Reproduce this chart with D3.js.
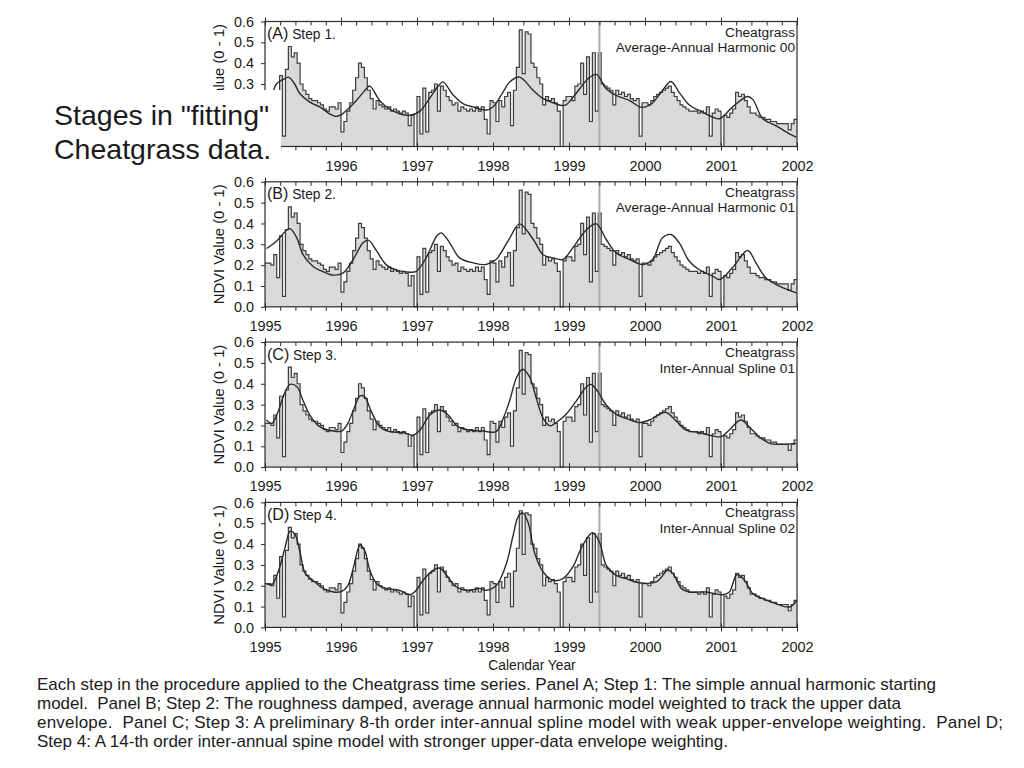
<!DOCTYPE html>
<html><head><meta charset="utf-8">
<script src="https://cdn.jsdelivr.net/npm/d3@7"></script>
<style>
body{margin:0;background:#fff}
svg{display:block}
text{font-family:"Liberation Sans",Arial,Helvetica,sans-serif;fill:#1a1a1a}
</style>
</head><body>
<svg id="c" width="1024" height="768"></svg>
<script>
// ---- data: NDVI composites (26 per year) ----
const ndvi1995 = [0.21,0.21,0.20,0.25,0.14,0.34,0.05,0.37,0.48,0.43,0.45,0.40,0.30,0.27,0.25,0.23,0.22,0.22,0.21,0.20,0.18,0.17,0.19,0.19,0.18,0.21];
const ndvi1996 = [0.07,0.12,0.17,0.21,0.27,0.33,0.40,0.38,0.33,0.27,0.23,0.18,0.22,0.20,0.19,0.18,0.19,0.17,0.18,0.17,0.16,0.17,0.16,0.10,0.15,0.00];
const ndvi1997 = [0.24,0.06,0.28,0.07,0.26,0.27,0.30,0.17,0.29,0.27,0.24,0.22,0.20,0.21,0.17,0.19,0.18,0.17,0.18,0.17,0.19,0.17,0.19,0.13,0.06,0.22];
const ndvi1998 = [0.21,0.12,0.22,0.19,0.24,0.26,0.10,0.27,0.38,0.56,0.35,0.55,0.54,0.40,0.38,0.33,0.30,0.20,0.24,0.22,0.23,0.21,0.17,0.00,0.22,0.24];
const ndvi1999 = [0.24,0.22,0.29,0.30,0.40,0.25,0.43,0.12,0.45,0.17,0.45,0.30,0.29,0.28,0.27,0.20,0.27,0.25,0.26,0.24,0.25,0.23,0.22,0.23,0.05,0.21];
const ndvi2000 = [0.21,0.20,0.22,0.24,0.25,0.26,0.27,0.28,0.29,0.26,0.24,0.22,0.20,0.19,0.18,0.17,0.17,0.17,0.16,0.17,0.16,0.19,0.05,0.16,0.18,0.17];
const ndvi2001 = [0.00,0.15,0.14,0.16,0.18,0.26,0.24,0.25,0.22,0.19,0.16,0.16,0.15,0.14,0.14,0.13,0.13,0.12,0.12,0.11,0.11,0.11,0.11,0.08,0.11,0.13];
const compositesPerYear = 26;

// ---- model curves: [year, NDVI] ----
const modelA = [[1995.0,0.22],[1995.10,0.26],[1995.15,0.30],[1995.24,0.322],[1995.31,0.333],[1995.39,0.30],[1995.46,0.253],[1995.59,0.213],[1995.72,0.19],[1995.85,0.157],[1995.92,0.145],[1995.99,0.15],[1996.07,0.173],[1996.20,0.22],[1996.34,0.28],[1996.38,0.29],[1996.51,0.22],[1996.64,0.18],[1996.77,0.157],[1996.91,0.15],[1997.04,0.17],[1997.17,0.233],[1997.28,0.29],[1997.34,0.31],[1997.47,0.25],[1997.61,0.205],[1997.74,0.19],[1997.91,0.175],[1998.0,0.19],[1998.13,0.26],[1998.22,0.31],[1998.35,0.333],[1998.53,0.269],[1998.66,0.23],[1998.79,0.21],[1998.90,0.197],[1998.96,0.20],[1999.09,0.253],[1999.25,0.325],[1999.36,0.346],[1999.49,0.277],[1999.62,0.245],[1999.80,0.22],[1999.93,0.19],[2000.01,0.19],[2000.10,0.21],[2000.23,0.269],[2000.34,0.312],[2000.45,0.26],[2000.58,0.20],[2000.71,0.173],[2000.89,0.141],[2000.98,0.133],[2001.15,0.189],[2001.35,0.24],[2001.42,0.225],[2001.55,0.133],[2001.72,0.10],[2001.90,0.061],[2001.99,0.045]];
const modelB = [[1995.02,0.28],[1995.15,0.315],[1995.29,0.37],[1995.33,0.375],[1995.42,0.33],[1995.50,0.25],[1995.63,0.195],[1995.77,0.168],[1995.90,0.152],[1996.03,0.163],[1996.16,0.227],[1996.29,0.307],[1996.36,0.32],[1996.47,0.267],[1996.60,0.20],[1996.73,0.176],[1996.91,0.166],[1996.99,0.17],[1997.12,0.235],[1997.26,0.34],[1997.32,0.355],[1997.43,0.307],[1997.56,0.235],[1997.74,0.211],[1997.91,0.203],[1998.04,0.227],[1998.09,0.25],[1998.22,0.33],[1998.35,0.398],[1998.53,0.323],[1998.66,0.25],[1998.79,0.235],[1998.92,0.227],[1999.05,0.283],[1999.23,0.37],[1999.36,0.398],[1999.49,0.323],[1999.62,0.259],[1999.80,0.227],[1999.97,0.203],[2000.10,0.227],[2000.23,0.331],[2000.34,0.347],[2000.45,0.307],[2000.58,0.22],[2000.71,0.179],[2000.89,0.147],[2000.98,0.131],[2001.15,0.187],[2001.35,0.27],[2001.46,0.211],[2001.59,0.139],[2001.77,0.099],[2001.99,0.067]];
const modelC = [[1995.02,0.226],[1995.09,0.21],[1995.18,0.274],[1995.24,0.338],[1995.33,0.397],[1995.42,0.386],[1995.50,0.32],[1995.59,0.25],[1995.72,0.194],[1995.90,0.173],[1996.01,0.173],[1996.09,0.21],[1996.18,0.29],[1996.25,0.342],[1996.31,0.338],[1996.40,0.266],[1996.51,0.194],[1996.64,0.17],[1996.82,0.166],[1996.95,0.154],[1997.04,0.178],[1997.17,0.25],[1997.30,0.274],[1997.41,0.25],[1997.54,0.194],[1997.69,0.178],[1997.87,0.173],[1998.04,0.17],[1998.13,0.23],[1998.22,0.32],[1998.31,0.43],[1998.39,0.47],[1998.48,0.434],[1998.57,0.33],[1998.66,0.234],[1998.75,0.198],[1998.83,0.214],[1998.96,0.253],[1999.09,0.314],[1999.23,0.386],[1999.29,0.397],[1999.38,0.362],[1999.49,0.298],[1999.62,0.253],[1999.75,0.234],[1999.93,0.214],[2000.06,0.226],[2000.19,0.254],[2000.28,0.262],[2000.41,0.221],[2000.54,0.178],[2000.71,0.166],[2000.89,0.15],[2001.00,0.146],[2001.11,0.178],[2001.26,0.226],[2001.37,0.194],[2001.50,0.146],[2001.64,0.114],[2001.81,0.109],[2001.99,0.114]];
const modelD = [[1995.02,0.21],[1995.09,0.205],[1995.18,0.274],[1995.26,0.378],[1995.33,0.461],[1995.39,0.45],[1995.46,0.362],[1995.53,0.258],[1995.63,0.226],[1995.77,0.186],[1995.90,0.17],[1996.01,0.173],[1996.09,0.20],[1996.16,0.282],[1996.25,0.394],[1996.31,0.37],[1996.38,0.274],[1996.47,0.21],[1996.60,0.186],[1996.77,0.178],[1996.91,0.157],[1996.99,0.178],[1997.08,0.226],[1997.21,0.274],[1997.30,0.285],[1997.39,0.25],[1997.52,0.194],[1997.65,0.178],[1997.83,0.186],[1997.91,0.178],[1998.04,0.20],[1998.10,0.235],[1998.18,0.31],[1998.27,0.45],[1998.33,0.53],[1998.39,0.55],[1998.46,0.506],[1998.55,0.354],[1998.66,0.266],[1998.79,0.226],[1998.92,0.234],[1999.05,0.29],[1999.18,0.394],[1999.31,0.454],[1999.40,0.41],[1999.49,0.298],[1999.62,0.25],[1999.75,0.234],[1999.93,0.214],[2000.15,0.218],[2000.30,0.274],[2000.37,0.258],[2000.48,0.186],[2000.58,0.17],[2000.80,0.17],[2001.02,0.157],[2001.11,0.17],[2001.21,0.254],[2001.31,0.226],[2001.42,0.162],[2001.55,0.138],[2001.72,0.114],[2001.90,0.098],[2002.0,0.13]];

// ---- labels & ticks ----
const yearTicks = [1995,1996,1997,1998,1999,2000,2001,2002];
const yTicks = [0,0.1,0.2,0.3,0.4,0.5,0.6];
const panelLetters = ["(A)","(B)","(C)","(D)"];
const panelSteps = ["Step 1.","Step 2.","Step 3.","Step 4."];
const panelModels = ["Average-Annual Harmonic 00","Average-Annual Harmonic 01","Inter-Annual Spline 01","Inter-Annual Spline 02"];
const speciesName = "Cheatgrass";
const refYear = 1999.4;
const yTitle = "NDVI Value (0 - 1)";
const xTitle = "Calendar Year";
const sideTitle = ["Stages in \"fitting\"","Cheatgrass data."];
const caption = [
 "Each step in the procedure applied to the Cheatgrass time series. Panel A; Step 1: The simple annual harmonic starting",
 "model.  Panel B; Step 2: The roughness damped, average annual harmonic model weighted to track the upper data",
 "envelope.  Panel C; Step 3: A preliminary 8-th order inter-annual spline model with weak upper-envelope weighting.  Panel D;",
 "Step 4: A 14-th order inter-annual spine model with stronger upper-data envelope weighting."
];
const captionWidths = [899, 864, 966, 691];

const models = [modelA, modelB, modelC, modelD];
const allVals = [].concat(ndvi1995,ndvi1996,ndvi1997,ndvi1998,ndvi1999,ndvi2000,ndvi2001);
const series = allVals.map((v,i)=>({t:1995+i/compositesPerYear, v}));
series.push({t:2002, v:allVals[allVals.length-1]});

const svg = d3.select("#c");
const defs = svg.append("defs");
defs.append("clipPath").attr("id","clipA").append("rect").attr("x",0).attr("y",0).attr("width",1024).attr("height",90);

const L = 265, R = 797, H = 125;
const x = d3.scaleLinear().domain([1995,2002]).range([L,R]);
const minorTicks = d3.range(1995,2002.001,0.2).filter(t=>Math.abs(t-Math.round(t))>0.01);
// part of panel A hidden under the side title box
const boxTop = 90;

models.forEach((model,p)=>{
  const top = 21.5 + p*160.3;
  const y = d3.scaleLinear().domain([0,0.6]).range([top+H, top]);
  const g = svg.append("g");

  g.append("path").datum(series)
    .attr("d", d3.area().x(d=>x(d.t)).y0(y(0)).y1(d=>y(d.v)).curve(d3.curveStepAfter))
    .attr("fill","#d9d9d9");
  g.append("path").datum(series)
    .attr("d", d3.line().x(d=>x(d.t)).y(d=>y(d.v)).curve(d3.curveStepAfter))
    .attr("fill","none").attr("stroke","#3d3d3d").attr("stroke-width",1.2);

  g.append("line").attr("x1",x(refYear)).attr("x2",x(refYear)).attr("y1",top).attr("y2",top+H)
    .attr("stroke","#ababab").attr("stroke-width",2);

  g.append("path").datum(model)
    .attr("d", d3.line().x(d=>x(d[0])).y(d=>y(d[1])).curve(d3.curveCatmullRom.alpha(0.5)))
    .attr("fill","none").attr("stroke","#2a2a2a").attr("stroke-width",1.4);

  g.append("rect").attr("x",L).attr("y",top).attr("width",R-L).attr("height",H)
    .attr("fill","none").attr("stroke","#2a2a2a").attr("stroke-width",1.2);

  const yT = p===0 ? yTicks.filter(v=>y(v) < boxTop) : yTicks;
  const xT = p===0 ? yearTicks.filter(v=>x(v) > 281) : yearTicks;

  // y axis
  const ya = g.append("g").attr("transform",`translate(${L},0)`)
    .call(d3.axisLeft(y).tickValues(yT).tickFormat(d3.format(".1f")).tickSize(4).tickPadding(7));
  ya.select(".domain").remove();
  ya.selectAll("line").attr("stroke","#2a2a2a");
  ya.selectAll("text").style("font-size","14.4px").attr("fill","#1a1a1a");

  // bottom axis
  const xb = g.append("g").attr("transform",`translate(0,${top+H})`)
    .call(d3.axisBottom(x).tickValues(xT).tickFormat(d3.format("d")).tickSize(4).tickPadding(10));
  xb.select(".domain").remove();
  xb.selectAll(".tick line").attr("y1",-4).attr("stroke","#2a2a2a");
  xb.selectAll("text").style("font-size","14.5px").attr("fill","#1a1a1a");
  const xbm = g.append("g").attr("transform",`translate(0,${top+H})`)
    .call(d3.axisBottom(x).tickValues(minorTicks).tickFormat("").tickSize(4));
  xbm.select(".domain").remove();
  xbm.selectAll("line").attr("stroke","#2a2a2a");

  // top axis
  const xt = g.append("g").attr("transform",`translate(0,${top})`)
    .call(d3.axisTop(x).tickValues(yearTicks).tickFormat("").tickSize(4));
  xt.select(".domain").remove();
  xt.selectAll("line").attr("y1",4).attr("stroke","#2a2a2a");
  const xtm = g.append("g").attr("transform",`translate(0,${top})`)
    .call(d3.axisTop(x).tickValues(minorTicks).tickFormat("").tickSize(-4));
  xtm.select(".domain").remove();
  xtm.selectAll("line").attr("stroke","#2a2a2a");

  // panel labels
  const lt = g.append("text").attr("x",L+2).attr("y",top+17.5);
  lt.append("tspan").text(panelLetters[p]).style("font-size","16px");
  lt.append("tspan").text(" "+panelSteps[p]).style("font-size","13.8px");
  g.append("text").attr("x",R-2).attr("y",top+15).attr("text-anchor","end")
    .style("font-size","13.7px").text(speciesName);
  g.append("text").attr("x",R-2).attr("y",top+30.5).attr("text-anchor","end")
    .style("font-size","13.7px").text(panelModels[p]);

  // y title
  const yt = g.append("text").attr("transform",`translate(223.5,${top+H/2}) rotate(-90)`)
    .attr("text-anchor","middle").style("font-size","14.8px").text(yTitle);
  if (p===0) {
    g.append("g").attr("clip-path","url(#clipA)").node().appendChild(yt.node());
  }
});

svg.append("text").attr("x",532).attr("y",670).attr("text-anchor","middle")
  .style("font-size","13.8px").text(xTitle);

// side title box
svg.append("rect").attr("x",40).attr("y",boxTop).attr("width",241).attr("height",83).attr("fill","#fff");
sideTitle.forEach((s,i)=>{
  svg.append("text").attr("x",54).attr("y",124.5+i*34.5).style("font-size","28.5px").text(s);
});

caption.forEach((s,i)=>{
  svg.append("text").attr("x",37).attr("y",690+i*19).style("font-size","17px")
    .attr("xml:space","preserve").style("white-space","pre")
    .attr("textLength",captionWidths[i]).attr("lengthAdjust","spacing")
    .text(s);
});
</script>
</body></html>
